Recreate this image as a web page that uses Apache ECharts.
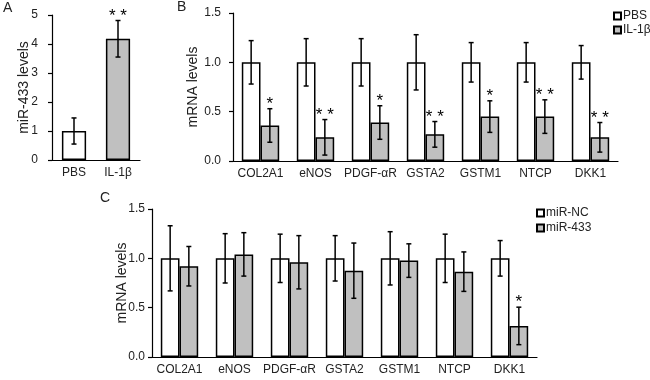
<!DOCTYPE html>
<html>
<head>
<meta charset="utf-8">
<script src="https://cdn.jsdelivr.net/npm/echarts@6/dist/echarts.min.js"></script>
<style>
  html, body { margin: 0; padding: 0; background: #fff; }
  #chart { width: 650px; height: 380px; }
</style>
</head>
<body>
<div id="chart"></div>
<script>
// panel A
const aCategories = ["PBS", "IL-1β"];
const aValues = [1.0, 4.18];
const aErrors = [0.45, 0.63];
const aStars = ["", "**"];

// panel B / C share the gene list
const genes = ["COL2A1", "eNOS", "PDGF-αR", "GSTA2", "GSTM1", "NTCP", "DKK1"];
const bPbs = [1, 1, 1, 1, 1, 1, 1];
const bPbsErr = [0.22, 0.24, 0.24, 0.28, 0.2, 0.2, 0.17];
const bIl = [0.36, 0.24, 0.39, 0.27, 0.45, 0.45, 0.24];
const bIlErr = [0.17, 0.18, 0.17, 0.13, 0.16, 0.17, 0.15];
const bStars = ["*", "**", "*", "**", "*", "**", "**"];

const cNc = [1, 1, 1, 1, 1, 1, 1];
const cNcErr = [0.33, 0.25, 0.245, 0.23, 0.27, 0.245, 0.18];
const cMir = [0.92, 1.04, 0.96, 0.875, 0.977, 0.865, 0.315];
const cMirErr = [0.2, 0.22, 0.27, 0.28, 0.17, 0.2, 0.19];
const cStars = ["", "", "", "", "", "", "*"];

const noStars = genes.map(() => "");

const FONT = "Liberation Sans, Arial, sans-serif";
const TXT = "#222";
const GRAY = "#c0c0c0";
const GAP_AB = 0.32;

const chart = echarts.init(document.getElementById("chart"));

// error bar + significance stars, offset to sit on bar `slot` of `slots`
const errorBar = (slot, slots, catGap, stars) => (params, api) => {
  const idx = api.value(0);
  const v = api.value(1);
  const e = api.value(2);
  const band = api.size([1, 0])[0];
  const barW = band * (1 - catGap) / slots;
  const cx = api.coord([idx, v])[0] + (slot - (slots - 1) / 2) * barW;
  const top = api.coord([idx, v + e])[1];
  const bot = api.coord([idx, v - e])[1];
  const cap = 2.5;
  const style = { stroke: "#000", lineWidth: 1.5 };
  const children = [
    { type: "line", shape: { x1: cx, y1: top, x2: cx, y2: bot }, style },
    { type: "line", shape: { x1: cx - cap, y1: top, x2: cx + cap, y2: top }, style },
    { type: "line", shape: { x1: cx - cap, y1: bot, x2: cx + cap, y2: bot }, style },
  ];
  const s = stars[params.dataIndex];
  if (s) {
    children.push({
      type: "text",
      style: {
        text: s.split("").join(" "),
        x: cx, y: top + 4,
        align: "center", verticalAlign: "bottom",
        font: "17px " + FONT, fill: "#000",
      },
    });
  }
  return { type: "group", children };
};

const yAxisBase = (gridIndex, max, interval, name, nameGap, margin, fmt) => ({
  type: "value", gridIndex, min: 0, max, interval,
  name, nameLocation: "middle", nameGap, nameRotate: 90, nameMoveOverlap: false,
  nameTextStyle: { fontFamily: FONT, fontSize: 14, color: TXT },
  axisLine: { show: true, lineStyle: { color: "#000", width: 1.2 } },
  axisTick: { show: true, length: 4, lineStyle: { color: "#000", width: 1.2 } },
  axisLabel: { fontFamily: FONT, fontSize: 12, color: TXT, margin, formatter: fmt },
  splitLine: { show: false },
});

const xAxisBase = (gridIndex, data) => ({
  type: "category", gridIndex, data,
  axisLine: { lineStyle: { color: "#000", width: 1.2 } },
  axisTick: { show: false },
  axisLabel: { fontFamily: FONT, fontSize: 12, color: TXT, margin: 7, interval: 0 },
});

const barStyle = (fill) => ({ color: fill, borderColor: "#000", borderWidth: 1.5 });

const errData = (vals, errs) => vals.map((v, i) => [i, v, errs[i]]);

const legendBase = (data, left, top, gap) => ({
  data, orient: "vertical", left, top, padding: 0,
  icon: "rect", itemWidth: 7, itemHeight: 7, itemGap: gap,
  textStyle: { fontFamily: FONT, fontSize: 12, color: TXT, padding: [0, 0, 0, -3] },
});

chart.setOption({
  animation: false,
  textStyle: { fontFamily: FONT },
  grid: [
    { left: 52, top: 15, width: 88, height: 145 },
    { left: 233, top: 13, width: 385, height: 148 },
    { left: 152, top: 209, width: 385, height: 148 },
  ],
  xAxis: [xAxisBase(0, aCategories), xAxisBase(1, genes), xAxisBase(2, genes)],
  yAxis: [
    yAxisBase(0, 5, 1, "miR-433 levels", 21, 14, (v) => v),
    yAxisBase(1, 1.5, 0.5, "mRNA levels", 33, 12, (v) => v.toFixed(1)),
    yAxisBase(2, 1.5, 0.5, "mRNA levels", 23, 7, (v) => v.toFixed(1)),
  ],
  legend: [
    legendBase(["PBS", "IL-1β"], 613, 10, 2),
    legendBase(["miR-NC", "miR-433"], 536, 207, 3),
  ],
  graphic: [
    { type: "text", left: 3, top: 1, style: { text: "A", font: "14px " + FONT, fill: TXT } },
    { type: "text", left: 177, top: 0, style: { text: "B", font: "14px " + FONT, fill: TXT } },
    { type: "text", left: 100, top: 191, style: { text: "C", font: "14px " + FONT, fill: TXT } },
  ],
  series: [
    {
      name: "A", type: "bar", xAxisIndex: 0, yAxisIndex: 0, barCategoryGap: "45%",
      data: aValues.map((v, i) => ({ value: v, itemStyle: barStyle(i === 0 ? "#fff" : GRAY) })),
    },
    {
      type: "custom", xAxisIndex: 0, yAxisIndex: 0, z: 5,
      renderItem: errorBar(0, 1, 0.45, aStars), data: errData(aValues, aErrors),
    },
    {
      name: "PBS", type: "bar", xAxisIndex: 1, yAxisIndex: 1, barGap: "0%", barCategoryGap: "32%",
      itemStyle: barStyle("#fff"), data: bPbs,
    },
    {
      name: "IL-1β", type: "bar", xAxisIndex: 1, yAxisIndex: 1, barGap: "0%", barCategoryGap: "32%",
      itemStyle: barStyle(GRAY), data: bIl,
    },
    {
      type: "custom", xAxisIndex: 1, yAxisIndex: 1, z: 5,
      renderItem: errorBar(0, 2, GAP_AB, noStars), data: errData(bPbs, bPbsErr),
    },
    {
      type: "custom", xAxisIndex: 1, yAxisIndex: 1, z: 5,
      renderItem: errorBar(1, 2, GAP_AB, bStars), data: errData(bIl, bIlErr),
    },
    {
      name: "miR-NC", type: "bar", xAxisIndex: 2, yAxisIndex: 2, barGap: "0%", barCategoryGap: "32%",
      itemStyle: barStyle("#fff"), data: cNc,
    },
    {
      name: "miR-433", type: "bar", xAxisIndex: 2, yAxisIndex: 2, barGap: "0%", barCategoryGap: "32%",
      itemStyle: barStyle(GRAY), data: cMir,
    },
    {
      type: "custom", xAxisIndex: 2, yAxisIndex: 2, z: 5,
      renderItem: errorBar(0, 2, GAP_AB, noStars), data: errData(cNc, cNcErr),
    },
    {
      type: "custom", xAxisIndex: 2, yAxisIndex: 2, z: 5,
      renderItem: errorBar(1, 2, GAP_AB, cStars), data: errData(cMir, cMirErr),
    },
  ],
});
</script>
</body>
</html>
